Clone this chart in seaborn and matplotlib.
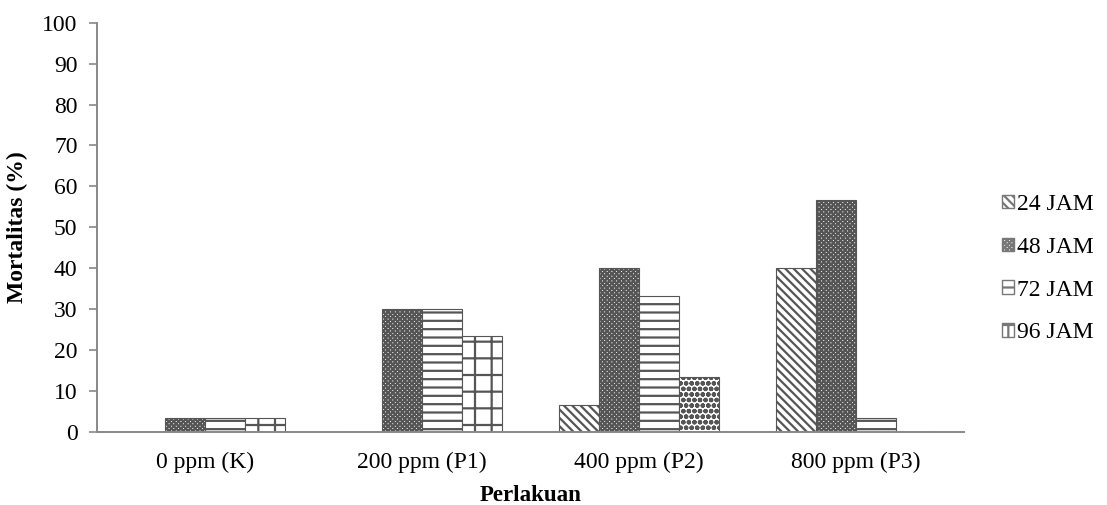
import pandas as pd
import matplotlib
matplotlib.use("Agg")
import matplotlib.pyplot as plt
import seaborn as sns
from matplotlib.patches import Patch


categories = ["0 ppm (K)", "200 ppm (P1)", "400 ppm (P2)", "800 ppm (P3)"]
series_names = ["24 JAM", "48 JAM", "72 JAM", "96 JAM"]

jam_24 = [0, 0, 6.67, 40]
jam_48 = [3.33, 30, 40, 56.67]
jam_72 = [3.33, 30, 33.33, 3.33]
jam_96 = [3.33, 23.33, 13.33, 0]

y_ticks = list(range(0, 101, 10))


def build_frame():

    rows = []

    for name, values in zip(series_names, [jam_24, jam_48, jam_72, jam_96]):

        for cat, v in zip(categories, values):

            rows.append({"Perlakuan": cat, "Waktu": name, "Mortalitas": v})

    return pd.DataFrame(rows)


def main():

    sns.set_style("white")

    plt.rcParams["font.family"] = ["Liberation Serif", "DejaVu Serif"]
    plt.rcParams["text.color"] = "black"
    plt.rcParams["axes.labelcolor"] = "black"
    plt.rcParams["xtick.color"] = "black"
    plt.rcParams["ytick.color"] = "black"
    plt.rcParams["hatch.linewidth"] = 1.6
    plt.rcParams["hatch.color"] = "#222222"

    df = build_frame()

    fig = plt.figure(figsize=(11.07, 5.05), dpi=100)

    ax = fig.add_axes([0.0876, 0.1446, 0.7832, 0.8105])

    sns.barplot(
        data=df,
        x="Perlakuan",
        y="Mortalitas",
        hue="Waktu",
        order=categories,
        hue_order=series_names,
        width=0.737,
        color="white",
        edgecolor="#555555",
        linewidth=0.8,
        errorbar=None,
        legend=False,
        ax=ax
    )

    # pattern of each series (the last series changes per group like in the source)
    hatches = [
        ["\\\\\\\\"] * 4,
        ["xxxxxxx"] * 4,
        ["--"] * 4,
        ["+", "+", "ooo", "+"],
    ]

    for i, container in enumerate(ax.containers):

        for j, bar in enumerate(container):

            bar.set_facecolor("white")
            bar.set_hatch(hatches[i][j])

    ax.set_ylim(0, 100)
    ax.set_yticks(y_ticks)
    ax.set_xlim(-0.5, 3.5)

    ax.set_xticks(range(len(categories)))
    ax.set_xticklabels(categories, fontsize=17)
    ax.tick_params(axis="x", length=0, pad=14)

    # tick marks between categories
    ax.set_xticks([-0.5, 0.5, 1.5, 2.5, 3.5], minor=True)
    ax.tick_params(axis="x", which="minor", length=6, color="#888888", width=1.2)

    ax.tick_params(
        axis="y", labelsize=17, length=6, color="#888888",
        labelcolor="black", width=1.2, left=True, pad=8
    )

    for side in ["top", "right"]:
        ax.spines[side].set_visible(False)

    for side in ["left", "bottom"]:
        ax.spines[side].set_color("#888888")
        ax.spines[side].set_linewidth(1.4)

    ax.set_xlabel("Perlakuan", fontsize=16.5, fontweight="bold", labelpad=9)
    ax.set_ylabel("Mortalitas (%)", fontsize=17, fontweight="bold", labelpad=10)

    handles = [
        Patch(facecolor="white", edgecolor="#777777", hatch=hatches[k][0], label=series_names[k])
        for k in range(len(series_names))
    ]

    fig.legend(
        handles=handles,
        loc="center left",
        bbox_to_anchor=(0.905, 0.468),
        frameon=False,
        fontsize=17,
        borderpad=0,
        borderaxespad=0,
        handlelength=0.5,
        handleheight=0.5,
        handletextpad=0.15,
        labelspacing=0.92
    )

    fig.savefig("out.png", dpi=100)


if __name__ == "__main__":
    main()
